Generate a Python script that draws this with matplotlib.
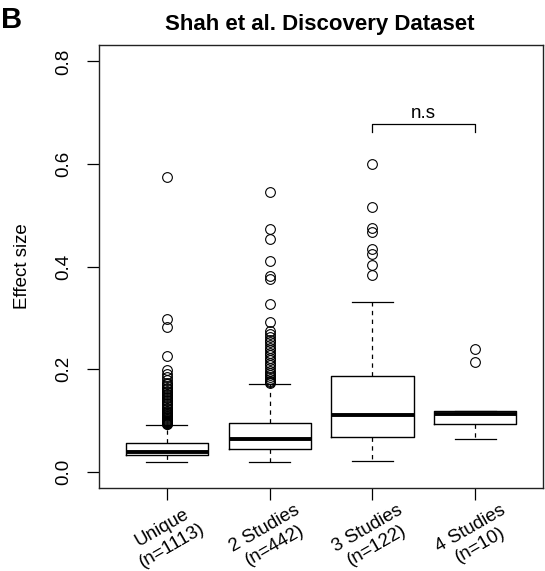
import matplotlib
matplotlib.use("Agg")
import matplotlib.pyplot as plt
import matplotlib.transforms as mtransforms

plt.rcParams['font.family'] = ['Liberation Sans', 'DejaVu Sans']

# --- data ---
groups = ["Unique\n(n=1113)", "2 Studies\n(n=442)", "3 Studies\n(n=122)", "4 Studies\n(n=10)"]
medians = [0.039, 0.064, 0.110, 0.112]
q1s = [0.032, 0.045, 0.067, 0.092]
q3s = [0.055, 0.095, 0.186, 0.118]
whis_lo = [0.019, 0.019, 0.021, 0.063]
whis_hi = [0.091, 0.170, 0.330, 0.119]

fliers_unique = [0.574, 0.297, 0.282, 0.2245, 0.199, 0.191, 0.184, 0.178, 0.173,
                 0.170, 0.167, 0.164, 0.161, 0.158, 0.155, 0.152, 0.149, 0.146,
                 0.143, 0.140, 0.137, 0.134, 0.131, 0.128, 0.125, 0.122, 0.119,
                 0.117, 0.115, 0.113, 0.111, 0.109, 0.107, 0.105, 0.103, 0.101,
                 0.099, 0.098, 0.097, 0.096, 0.095, 0.094, 0.093, 0.092]
fliers_2 = [0.5445, 0.474, 0.454, 0.410, 0.381, 0.376, 0.327, 0.292, 0.274,
            0.268, 0.262, 0.257, 0.252, 0.247, 0.242, 0.237, 0.232, 0.227,
            0.222, 0.217, 0.212, 0.207, 0.202, 0.197, 0.192, 0.188, 0.184,
            0.180, 0.177, 0.174, 0.172]
fliers_3 = [0.600, 0.517, 0.476, 0.467, 0.435, 0.425, 0.402, 0.384]
fliers_4 = [0.240, 0.214]
fliers = [fliers_unique, fliers_2, fliers_3, fliers_4]

ns_y = 0.678       # bracket height
ns_drop = 0.016    # bracket tick length

fig = plt.figure(figsize=(5.45, 5.71), dpi=100)
ax = fig.add_axes([99 / 545, 83 / 571, 444 / 545, 443 / 571])

stats = []
for i in range(len(groups)):
    stats.append(dict(med=medians[i], q1=q1s[i], q3=q3s[i],
                      whislo=whis_lo[i], whishi=whis_hi[i], fliers=fliers[i]))

positions = list(range(1, len(groups) + 1))
ax.bxp(stats, positions=positions, widths=0.8, showfliers=True,
       boxprops=dict(color='black', linewidth=1.0),
       medianprops=dict(color='black', linewidth=2.8, solid_capstyle='butt'),
       whiskerprops=dict(color='black', linewidth=0.9, linestyle=(0, (3.5, 3.5))),
       capprops=dict(color='black', linewidth=0.9),
       flierprops=dict(marker='o', markerfacecolor='none', markeredgecolor='black',
                       markersize=7, markeredgewidth=0.8, linestyle='none'))

ax.set_xlim(0.34, 4.66)
ax.set_ylim(-0.032, 0.832)

# y axis (R style: rotated tick labels)
ax.set_yticks([0.0, 0.2, 0.4, 0.6, 0.8])
ax.set_yticklabels(["0.0", "0.2", "0.4", "0.6", "0.8"], rotation=90, va='center')
ax.tick_params(axis='y', length=8.5, width=0.9, pad=10.5, labelsize=13.5)
ax.set_ylabel("Effect size", fontsize=13.5, labelpad=18)

# x axis: ticks with rotated two-line labels
ax.set_xticks(positions)
ax.set_xticklabels([])
ax.tick_params(axis='x', length=8.5, width=0.9)
trans = mtransforms.blended_transform_factory(ax.transData, ax.transAxes)
for pos, lab in zip(positions, groups):
    ax.text(pos, -0.11, lab, transform=trans, rotation=30, ha='center', va='center',
            multialignment='center', fontsize=13.5, rotation_mode='anchor')

for sp in ax.spines.values():
    sp.set_linewidth(1.0)
    sp.set_color('#222222')

# n.s bracket between 3 and 4 studies
ax.plot([3, 3, 4, 4], [ns_y - ns_drop, ns_y, ns_y, ns_y - ns_drop],
        color='black', linewidth=0.9)
ax.text(3.5, ns_y + 0.012, "n.s", ha='center', va='baseline', fontsize=13.5)

fig.text(320 / 545, 1 - 30 / 571, "Shah et al. Discovery Dataset", ha='center',
         va='baseline', fontsize=16, fontweight='bold')
fig.text(1 / 545, 1 - 28 / 571, "B", ha='left', va='baseline',
         fontsize=21, fontweight='bold')

fig.savefig("out.png", dpi=100)
